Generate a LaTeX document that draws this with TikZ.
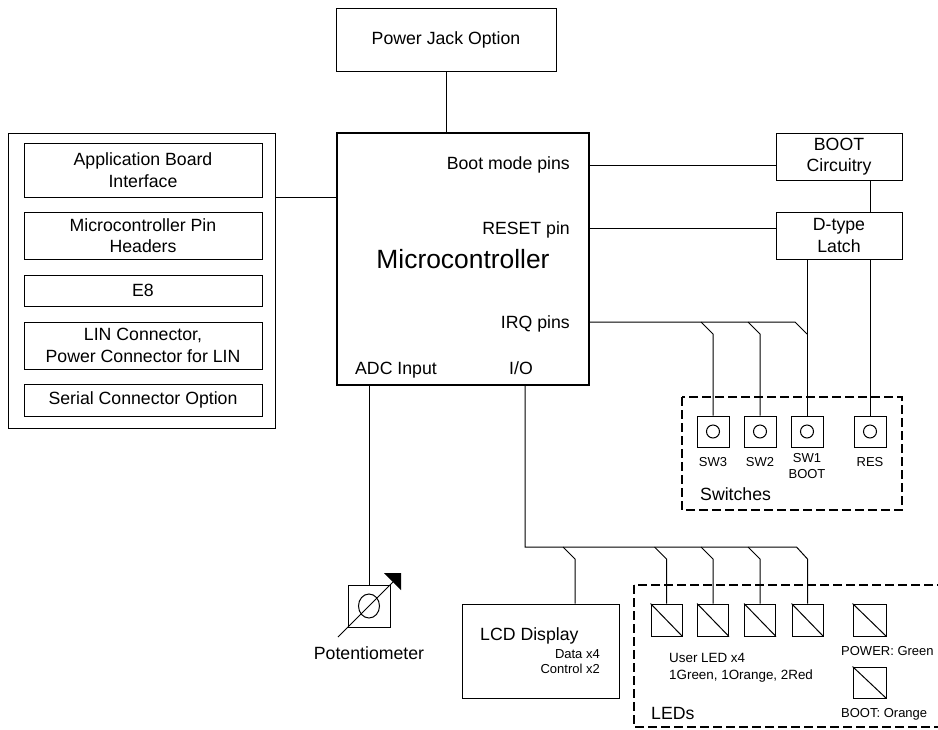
\documentclass[tikz,border=0pt]{standalone}
\usepackage{fontspec}
\setmainfont{Liberation Sans}
\usetikzlibrary{calc}
\newcommand\myN{\fontsize{17.7}{21.5}\selectfont}
\newcommand\myS{\fontsize{13}{16}\selectfont}
\newcommand\myB{\fontsize{26.4}{30}\selectfont}
\begin{document}
\begin{tikzpicture}[x=1pt,y=-1pt,
  box/.style={draw,line width=1pt,inner sep=0pt,align=center,font=\myN},
  swbox/.style={draw,line width=1pt,inner sep=0pt,minimum width=32pt,minimum height=31pt},
  ledbox/.style={draw,line width=1pt,inner sep=0pt,minimum width=31pt,minimum height=32pt},
  grp/.style={draw,line width=1.8pt,dash pattern=on 9pt off 4pt},
  wire/.style={line width=1pt},
  lbl/.style={inner sep=0pt,font=\myN},
  slbl/.style={inner sep=0pt,font=\myS,align=center}]
\useasboundingbox (0,0) rectangle (938,729);
% top
\node[box,minimum width=220pt,minimum height=63pt] (pj) at (446,39.5) {Power Jack Option};
% microcontroller
\node[draw,line width=2.6pt,minimum width=252pt,minimum height=252pt,inner sep=0pt] (mcu) at (463,259) {};
\node[lbl,anchor=base east] (lboot) at (570,169.5) {Boot mode pins};
\node[lbl,anchor=base east] (lres) at (570,234.5) {RESET pin};
\node[lbl,anchor=base east] (lirq) at (570,328.5) {IRQ pins};
\node[inner sep=0pt,font=\myB,anchor=base] (lmcu) at (463,268.5) {Microcontroller};
\node[lbl,anchor=base] (ladc) at (396,374.5) {ADC Input};
\node[lbl,anchor=base] (lio) at (521,374.5) {I/O};
% left group
\node[draw,line width=1pt,minimum width=267pt,minimum height=295pt,inner sep=0pt] (outer) at (141.5,280.5) {};
\node[box,minimum width=238pt,minimum height=54pt] (ab) at (143,170) {Application Board\\Interface};
\node[box,minimum width=238pt,minimum height=47pt] (mph) at (143,235.5) {Microcontroller Pin\\Headers};
\node[box,minimum width=238pt,minimum height=31pt] (e8) at (143,290.5) {E8};
\node[box,minimum width=238pt,minimum height=47pt] (lin) at (143,345.5) {LIN Connector,\\Power Connector for LIN};
\node[box,minimum width=238pt,minimum height=32pt] (ser) at (143,400) {Serial Connector Option};
% right
\node[box,minimum width=126pt,minimum height=47pt] (boot) at (839,156.5) {BOOT\\Circuitry};
\node[box,minimum width=126pt,minimum height=47pt] (latch) at (839,235.5) {D-type\\Latch};
% switches
\draw[grp] (682,397) rectangle (902,510);
\node[swbox] (sw3) at (713,431.5) {};
\node[swbox] (sw2) at (760,431.5) {};
\node[swbox] (sw1) at (807,431.5) {};
\node[swbox] (res) at (870,431.5) {};
\foreach \s in {sw3,sw2,sw1,res} \draw[wire] (\s.center) circle (6.5);
\node[slbl,anchor=base] (tsw3) at (713,466.6) {SW3};
\node[slbl,anchor=base] (tsw2) at (760,466.6) {SW2};
\node[slbl] (tsw1) at (807,466) {SW1\\BOOT};
\node[slbl,anchor=base] (tres) at (870,466.6) {RES};
\node[lbl,anchor=base west] (tswitches) at (700,500.3) {Switches};
% LCD
\node[draw,line width=1pt,minimum width=157pt,minimum height=94pt,inner sep=0pt] (lcd) at (540.5,651) {};
\node[lbl,anchor=base west] (tlcd) at (480,640.3) {LCD Display};
\node[slbl,anchor=base east] (tdata) at (600,658.6) {Data x4};
\node[slbl,anchor=base east] (tctrl) at (600,673.6) {Control x2};
% LEDs
\draw[grp] (634,585) rectangle (960,727);
\node[ledbox] (led1) at (666.5,620) {};
\node[ledbox] (led2) at (713,620) {};
\node[ledbox] (led3) at (760,620) {};
\node[ledbox] (led4) at (807.5,620) {};
\node[ledbox,minimum width=33pt] (ledp) at (869.5,620) {};
\node[ledbox,minimum width=33pt,minimum height=31pt] (ledb) at (869.5,682.5) {};
\foreach \l in {led1,led2,led3,led4,ledp,ledb} \draw[wire] (\l.north west) -- (\l.south east);
\node[slbl,anchor=base west,font=\fontsize{13.4}{16}\selectfont] (tuser) at (669,662.8) {User LED x4};
\node[slbl,anchor=base west,font=\fontsize{13.4}{16}\selectfont] (tcol) at (669,679.8) {1Green, 1Orange, 2Red};
\node[slbl,anchor=base west] (tpwr) at (841,655.6) {POWER: Green};
\node[slbl,anchor=base west] (tbt) at (841,717.6) {BOOT: Orange};
\node[lbl,anchor=base west] (tleds) at (651,719.3) {LEDs};
% potentiometer
\node[draw,line width=1pt,minimum width=42pt,minimum height=42pt,inner sep=0pt] (pot) at (369,606) {};
\draw[wire] (pot.center) ellipse (10.5 and 12);
\draw[wire] ($(pot.center)+(-31,31)$) -- ($(pot.center)+(24,-24)$);
\fill ($(pot.center)+(15,-33)$) -- ($(pot.center)+(32,-33)$) -- ($(pot.center)+(32,-16)$) -- cycle;
\node[lbl,anchor=base] (tpot) at (369,659.3) {Potentiometer};
% connectors
\coordinate (bootpin) at (589,165);
\coordinate (respin) at (589,228);
\coordinate (irq) at (589,322);
\coordinate (adc) at (369,385);
\coordinate (io) at (525,385);
\coordinate (iobus) at (525,547);
\coordinate (lcdtap) at (575,547);
\draw[wire] (pj.south) -- (pj.south |- mcu.north);
\draw[wire] (outer.east |- ab.south) -- (mcu.west |- ab.south);
\draw[wire] (bootpin) -- (boot.west |- bootpin);
\draw[wire] (respin) -- (latch.west |- respin);
\draw[wire] (boot.south -| res) -- (latch.north -| res);
\draw[wire] (latch.south -| res) -- (res.north);
\draw[wire] (latch.south -| sw1) -- (sw1.north);
\draw[wire] (irq) -- ($(sw1.north |- irq)+(-12,0)$) -- ($(sw1.north |- irq)+(0,12)$);
\foreach \s in {sw3,sw2}
  \draw[wire] ($(\s.north |- irq)+(-12,0)$) -- ($(\s.north |- irq)+(0,12)$) -- (\s.north);
\draw[wire] (adc) -- (pot.north);
\draw[wire] (io) -- (iobus) -- ($(led4.north |- iobus)+(-11,0)$) -- ($(led4.north |- iobus)+(0,12)$) -- (led4.north);
\foreach \l in {led1,led2,led3}
  \draw[wire] ($(\l.north |- iobus)+(-12,0)$) -- ($(\l.north |- iobus)+(0,12)$) -- (\l.north);
\draw[wire] ($(lcdtap)+(-12,0)$) -- ($(lcdtap)+(0,12)$) -- (lcd.north -| lcdtap);
\end{tikzpicture}
\end{document}
